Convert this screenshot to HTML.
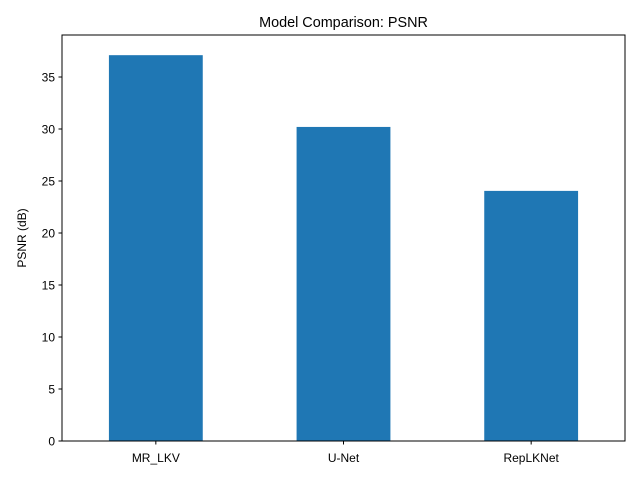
<!DOCTYPE html>
<html><head><meta charset="utf-8"><style>body{margin:0;background:#fff}svg{display:block;font-family:"Liberation Sans","DejaVu Sans",sans-serif}</style></head>
<body>
<svg id="chart" width="640" height="480">
<text x="343.5" y="27" text-anchor="middle" font-size="14.4">Model Comparison: PSNR</text>
<text transform="translate(26,238) rotate(-90)" text-anchor="middle" font-size="12">PSNR (dB)</text>
<g id="bars"></g><g id="yticks"></g><g id="xticks"></g>
<rect x="62" y="35" width="563" height="406" fill="none" stroke="#000" stroke-width="1"/>
</svg>
<script>
const categories = ["MR_LKV", "U-Net", "RepLKNet"];
const psnrValues = [37.1, 30.2, 24.05];
const yTickValues = [0, 5, 10, 15, 20, 25, 30, 35];
const L=62,R=625,T=35,B=441,yMax=39.04,xMin=-0.5,xMax=2.5;
const sx=v=>L+(v-xMin)/(xMax-xMin)*(R-L);
const sy=v=>B-v/yMax*(B-T);
const NS="http://www.w3.org/2000/svg";
const bars=document.getElementById('bars'),yt=document.getElementById('yticks'),xt=document.getElementById('xticks');
psnrValues.forEach((v,i)=>{
  const r=document.createElementNS(NS,'rect');
  r.setAttribute('x',sx(i-0.25));r.setAttribute('width',sx(i+0.25)-sx(i-0.25));
  r.setAttribute('y',sy(v));r.setAttribute('height',sy(0)-sy(v));r.setAttribute('fill','#1f77b4');
  
  
  bars.appendChild(r);
  const l=document.createElementNS(NS,'line');
  l.setAttribute('x1',sx(i));l.setAttribute('x2',sx(i));l.setAttribute('y1',B);l.setAttribute('y2',B+3.5);l.setAttribute('stroke','#000');
  
  
  xt.appendChild(l);
  const t=document.createElementNS(NS,'text');
  t.setAttribute('x',sx(i));t.setAttribute('y',B+21);t.setAttribute('text-anchor','middle');t.setAttribute('font-size','12');
  t.textContent=categories[i];
  
  
  xt.appendChild(t);
});
yTickValues.forEach(v=>{
  const l=document.createElementNS(NS,'line');
  l.setAttribute('x1',L-3.5);l.setAttribute('x2',L);l.setAttribute('y1',sy(v));l.setAttribute('y2',sy(v));l.setAttribute('stroke','#000');
  
  
  yt.appendChild(l);
  const t=document.createElementNS(NS,'text');
  t.setAttribute('x',L-7);t.setAttribute('y',sy(v)+4.5);t.setAttribute('text-anchor','end');t.setAttribute('font-size','12');
  t.textContent=v;
  
  
  yt.appendChild(t);
});
</script>
</body></html>
